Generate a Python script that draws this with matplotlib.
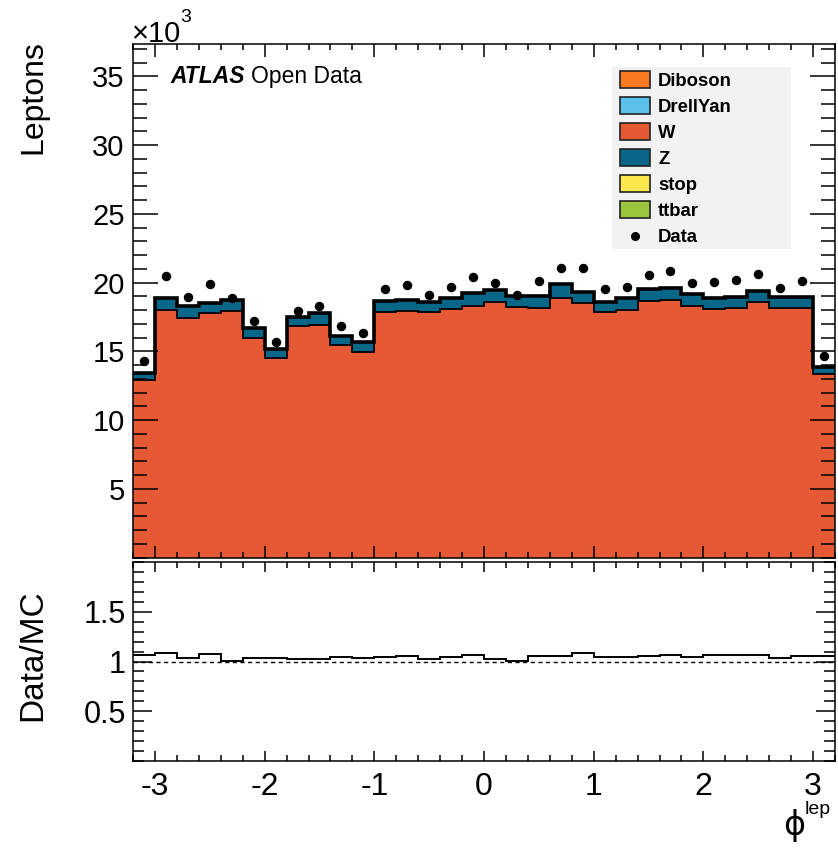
import numpy as np
import matplotlib
matplotlib.use("Agg")
import matplotlib.pyplot as plt
from matplotlib.patches import Rectangle
from matplotlib.ticker import MultipleLocator

# ---------------- data (values in units of 10^3 leptons) ----------------
bin_edges = [-3.2 + 0.2 * i for i in range(33)]
W_vals = [12.92, 18.03, 17.42, 17.79, 17.91, 15.96, 14.50, 16.82, 16.93, 15.47, 14.99,
          17.84, 17.93, 17.84, 18.08, 18.32, 18.61, 18.20, 18.18, 18.88, 18.52, 17.84,
          18.03, 18.69, 18.76, 18.32, 18.08, 18.18, 18.57, 18.18, 18.18, 13.34]
Z_vals = [0.51, 0.83, 0.86, 0.73, 0.85, 0.71, 0.71, 0.70, 0.86, 0.69, 0.73,
          0.80, 0.83, 0.77, 0.80, 0.90, 0.86, 0.85, 0.82, 1.00, 0.82, 0.77,
          0.83, 0.83, 0.85, 0.86, 0.82, 0.80, 0.80, 0.80, 0.80, 0.56]
data_vals = [14.30, 20.50, 18.93, 19.90, 18.86, 17.20, 15.72, 17.96, 18.30, 16.84, 16.33,
             19.56, 19.83, 19.10, 19.71, 20.39, 19.98, 19.12, 20.10, 21.05, 21.05, 19.54,
             19.69, 20.56, 20.83, 19.96, 20.07, 20.22, 20.61, 19.64, 20.10, 14.67]

legend_labels = ["Diboson", "DrellYan", "W", "Z", "stop", "ttbar", "Data"]
legend_colors = ["#FA7921", "#5BC0EB", "#E55934", "#086788", "#FDE74C", "#9BC53D", None]
color_W = "#E55934"
color_Z = "#086788"

FONT = "Liberation Sans"
plt.rcParams["font.family"] = [FONT, "DejaVu Sans"]

W_PX, H_PX = 838, 848
fig = plt.figure(figsize=(W_PX / 100, H_PX / 100), dpi=100)


def fx(px):
    return px / W_PX


def fy(py):
    return 1 - py / H_PX


# axes placement (pixel boxes)
L, R = 133, 835
T1, B1 = 44, 557.7
T2, B2 = 562.3, 760.7
ax = fig.add_axes([fx(L), fy(B1), fx(R) - fx(L), fy(T1) - fy(B1)])
axr = fig.add_axes([fx(L), fy(B2), fx(R) - fx(L), fy(T2) - fy(B2)])

edges = np.array(bin_edges)
W = np.array(W_vals)
Z = np.array(Z_vals)
D = np.array(data_vals)
tot = W + Z
centers = 0.5 * (edges[:-1] + edges[1:])

# stacked histogram
ax.stairs(W, edges, baseline=0, fill=True, color=color_W, lw=0)
ax.stairs(tot, edges, baseline=W, fill=True, color=color_Z, lw=0)
ax.stairs(W, edges, baseline=None, color="black", lw=1.3)
ax.stairs(tot, edges, baseline=None, color="black", lw=2.6)
ax.plot(centers, D, "o", color="black", ms=5.8, zorder=5)

ax.set_xlim(-3.2, 3.2)
ax.set_ylim(0, 37.36)

for a in (ax, axr):
    for s in a.spines.values():
        s.set_linewidth(1.1)
    a.xaxis.set_major_locator(MultipleLocator(1))
    a.xaxis.set_minor_locator(MultipleLocator(0.2))

ax.yaxis.set_major_locator(MultipleLocator(5))
ax.yaxis.set_minor_locator(MultipleLocator(1))
ax.set_yticks([5, 10, 15, 20, 25, 30, 35])
ax.tick_params(axis="both", which="both", direction="in", top=True, right=True,
               labelbottom=False, width=1.1)
ax.tick_params(axis="y", which="major", length=18, labelsize=21, pad=6)
ax.tick_params(axis="y", which="minor", length=10)
ax.tick_params(axis="x", which="major", length=9)
ax.tick_params(axis="x", which="minor", length=4.5)

# ratio panel
ratio = D / tot
axr.stairs(ratio, edges, baseline=None, color="black", lw=1.4)
axr.axhline(1.0, color="black", lw=1.0, ls=(0, (3, 2.5)))
axr.set_xlim(-3.2, 3.2)
axr.set_ylim(0, 2)
axr.set_yticks([0.5, 1, 1.5])
axr.set_yticklabels(["0.5", "1", "1.5"])
axr.yaxis.set_minor_locator(MultipleLocator(0.1))
axr.set_xticks([-3, -2, -1, 0, 1, 2, 3])
axr.set_xticklabels(["-3", "-2", "-1", "0", "1", "2", "3"])
axr.tick_params(axis="both", which="both", direction="in", top=True, right=True, width=1.1)
axr.tick_params(axis="y", which="major", length=14, labelsize=22, pad=5)
axr.tick_params(axis="y", which="minor", length=8)
axr.tick_params(axis="x", which="major", length=7.5, labelsize=23, pad=8)
axr.tick_params(axis="x", which="minor", length=4)

# axis titles
fig.text(fx(33), fy(97), "Leptons", rotation=90, ha="center", va="center", fontsize=23)
fig.text(fx(33), fy(655), "Data/MC", rotation=90, ha="center", va="center", fontsize=24)
fig.text(fx(132), fy(42), "\u00d710", ha="left", va="baseline", fontsize=21)
fig.text(fx(180), fy(22), "3", ha="left", va="baseline", fontsize=14)
fig.text(fx(805), fy(835), "\u03d5", ha="right", va="baseline", fontsize=24,
         family=["DejaVu Sans"])
fig.text(fx(805), fy(814), "lep", ha="left", va="baseline", fontsize=14)

# ATLAS label
t = fig.text(fx(170), fy(83), "ATLAS", ha="left", va="baseline", fontsize=16.5,
             weight="bold", style="italic")
fig.canvas.draw()
bb = t.get_window_extent()
fig.text(bb.x1 / W_PX + fx(6), fy(83), "Open Data", ha="left", va="baseline", fontsize=16.5)

# legend (drawn by hand to match ROOT layout)
fig.patches.append(Rectangle((fx(612), fy(249)), fx(791) - fx(612), fy(67) - fy(249),
                             transform=fig.transFigure, facecolor="#F2F2F2",
                             edgecolor="none", zorder=10))
y0 = 79.5
for i, (lab, col) in enumerate(zip(legend_labels, legend_colors)):
    yc = y0 + 26 * i
    if col is not None:
        fig.patches.append(Rectangle((fx(620), fy(yc + 8.5)), fx(650) - fx(620), fy(yc - 8.5) - fy(yc + 8.5),
                                     transform=fig.transFigure, facecolor=col,
                                     edgecolor="#222222", lw=1.2, zorder=11))
    else:
        fig.lines.append(plt.Line2D([fx(635)], [fy(yc)], marker="o", ms=5.5, color="black",
                                    transform=fig.transFigure, zorder=11))
    fig.text(fx(658), fy(yc), lab, ha="left", va="center_baseline", fontsize=13.3,
             weight="bold", zorder=12)

fig.savefig("out.png", dpi=100)
